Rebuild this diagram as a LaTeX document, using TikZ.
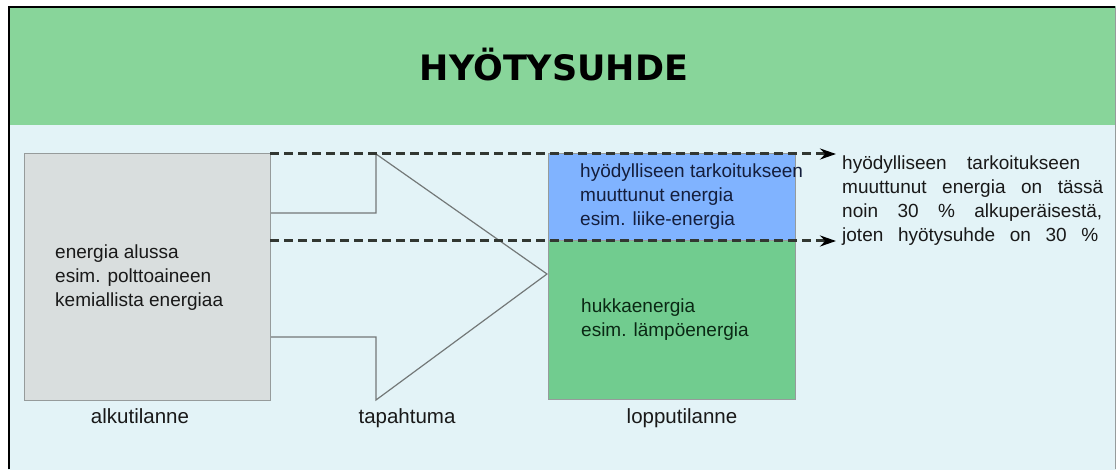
\documentclass[tikz,border=0pt]{standalone}
\usepackage{fontspec}
\setmainfont{Liberation Sans}
\newfontfamily\titlefont{DejaVu Sans}
\usetikzlibrary{arrows.meta}
\definecolor{hdr}{RGB}{136,213,154}
\definecolor{bodybg}{RGB}{227,243,247}
\definecolor{grayfill}{RGB}{217,222,222}
\definecolor{bluefill}{RGB}{128,179,255}
\definecolor{greenfill}{RGB}{113,204,143}
\definecolor{edgec}{RGB}{150,155,155}
\definecolor{arrowc}{RGB}{115,120,120}
\definecolor{dashc}{RGB}{50,55,50}
\definecolor{txt}{RGB}{25,25,25}
\definecolor{bluetxt}{RGB}{20,30,60}
\definecolor{greentxt}{RGB}{10,40,20}
\tikzset{
  boxstyle/.style={draw=edgec, line width=1pt, inner sep=0pt, outer sep=0pt, anchor=north west},
  bodytext/.style={font=\fontsize{19}{24}\selectfont, align=left, anchor=base west, inner sep=0pt, text=txt},
  labeltext/.style={font=\fontsize{20.5}{24}\selectfont, anchor=base, inner sep=0pt, text=txt},
  dashline/.style={draw=dashc, line width=3pt, dash pattern=on 9pt off 5pt, -{Stealth[length=16pt,width=11pt,black]}},
}
\begin{document}
\begin{tikzpicture}[x=1pt,y=-1pt]
\useasboundingbox (0,0) rectangle (1117,470);
\fill[white] (0,0) rectangle (1117,470);
\fill[bodybg] (8,6) rectangle (1116,470);
\fill[hdr] (8,6) rectangle (1116,125);
\draw[black, line width=1.6pt] (8.8,469) -- (8.8,6.8) -- (1115,6.8);
\draw[edgec, line width=1pt] (1115.5,6.8) -- (1115.5,469);
\node[font=\titlefont\bfseries\fontsize{35}{40}\selectfont, text=black, inner sep=0pt] (title) at (554,65) {HYÖTYSUHDE};
% big arrow
\fill[bodybg] (270,213) -- (376,213) -- (376,154) -- (547,274) -- (376,400) -- (376,337) -- (270,337) -- cycle;
\draw[arrowc, line width=1.2pt, line join=miter] (270,213) -- (376,213) -- (376,154) -- (547,274) -- (376,400) -- (376,337) -- (270,337);
% boxes
\node[boxstyle, fill=grayfill, minimum width=246pt, minimum height=246pt] (alku) at (24,154) {};
\node[boxstyle, fill=bluefill, minimum width=247pt, minimum height=87pt] (hyoty) at (548,154) {};
\node[boxstyle, fill=greenfill, minimum width=247pt, minimum height=158pt] (hukka) at (548,241) {};
% dashed connectors
\coordinate (d1) at (836,154);
\coordinate (d2) at (836,241);
\draw[dashline] (alku.north east) -- (d1);
\draw[dashline] (alku.east |- hukka.north west) -- (d2);
% texts (anchor = baseline of the last line)
\node[bodytext] (t1) at (55,307) {energia alussa\\esim. polttoaineen\\kemiallista energiaa};
\node[bodytext, text=bluetxt] (t2) at (580,226) {hyödylliseen tarkoitukseen\\muuttunut energia\\esim. liike-energia};
\node[bodytext, text=greentxt] (t3) at (581,337) {hukkaenergia\\esim. lämpöenergia};
\node[bodytext] (t4) at (842,242) {\makebox[238pt][s]{hyödylliseen tarkoitukseen}\\\makebox[261pt][s]{muuttunut energia on tässä}\\\makebox[260pt][s]{noin 30 \% alkuperäisestä,}\\\makebox[256pt][s]{joten hyötysuhde on 30 \%}};
\node[labeltext] (l1) at (140,423) {alkutilanne};
\node[labeltext] (l2) at (407,423) {tapahtuma};
\node[labeltext] (l3) at (682,423) {lopputilanne};
\end{tikzpicture}
\end{document}
